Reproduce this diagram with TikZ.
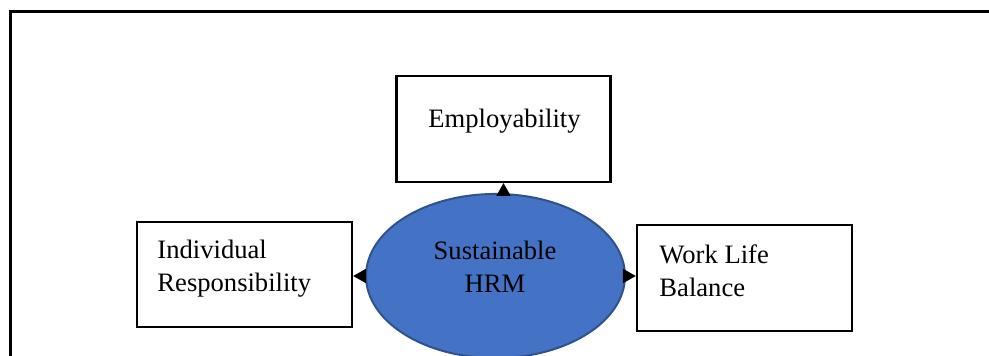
\documentclass[tikz,border=0pt]{standalone}
\usepackage{fontspec}
\setmainfont{Liberation Serif}
\usetikzlibrary{shapes.geometric,arrows.meta}
\definecolor{hrmblue}{HTML}{4472C4}
\definecolor{hrmedge}{HTML}{2F528F}

\begin{document}
\begin{tikzpicture}[x=0.01586cm,y=-0.01586cm,
  every node/.style={font=\fontsize{12}{14.9}\selectfont},
  box/.style={draw,line width=1.05pt,minimum width=97pt,minimum height=47.4pt,inner sep=0pt},
  txt/.style={inner sep=0pt},
  arr/.style={-{Triangle[length=5.8pt,width=6.4pt]},line width=0.6pt}]

\clip (0,0) rectangle (989,356);

% --- Cornice ---
\draw[line width=1.35pt] (10.5,11.5) rectangle (1000,380);

% --- Ellisse centrale ---
\node[ellipse,draw=hrmedge,fill=hrmblue,line width=0.9pt,
      minimum width=116.8pt,minimum height=74pt,inner sep=0pt] (hrm) at (495.5,276) {};
\node[txt,align=center] (hrmT) at (495,266.5) {Sustainable\\HRM};

% --- Riquadri ---
\node[box,minimum width=96.5pt,minimum height=47.8pt] (emp) at (503.5,129) {};
\node[box] (ind) at (244.5,274.5) {};
\node[box,minimum height=47.8pt] (wlb) at (744.5,278) {};

% --- Etichette ---
\node[txt,anchor=base] (empT) at (504.5,128) {Employability};
\node[txt,align=left,anchor=west] (indT) at (157,268.5) {Individual\\Responsibility};
\node[txt,align=left,anchor=west] (wlbT) at (659,270.5) {Work Life\\Balance};

% --- Frecce ---
\draw[arr] (emp.south |- hrm.north) -- (emp.south);
\draw[arr] (hrm.west) -- (ind.east |- hrm.west);
\draw[arr] (hrm.east) -- (wlb.west |- hrm.east);

\end{tikzpicture}
\end{document}
